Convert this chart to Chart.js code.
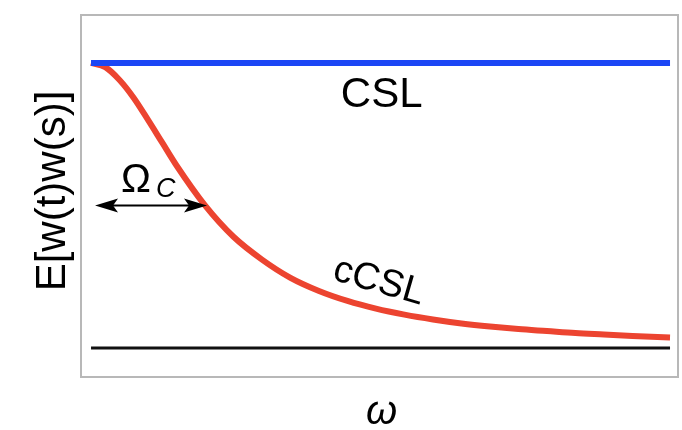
<!DOCTYPE html>
<html>
<head>
<meta charset="utf-8">
<script src="https://cdn.jsdelivr.net/npm/chart.js@4/dist/chart.umd.min.js"></script>
<style>
  html, body { margin: 0; padding: 0; background: #fff; }
  #wrap { width: 682px; height: 430px; }
</style>
</head>
<body>
<div id="wrap"><canvas id="chart"></canvas></div>
<script>
// frequency axis, in units of the cutoff Omega_C
const omega = [0, 0.125, 0.25, 0.375, 0.5, 0.625, 0.75, 1, 1.25, 1.5, 1.75, 2, 2.25, 2.5, 2.75, 3, 3.25, 3.5, 3.75, 4, 4.25, 4.5, 4.75, 5.08];
// coloured CSL correlation
const cCSL = [1.00, 0.985, 0.94, 0.877, 0.80, 0.72, 0.64, 0.50, 0.39, 0.31, 0.246, 0.20, 0.165, 0.138, 0.117, 0.10, 0.086, 0.075, 0.066, 0.059, 0.052, 0.047, 0.042, 0.037];
// white-noise CSL (flat) and the zero line
const cslX = [0, 5.08];
const csl = [1, 1];
const zero = [0, 0];

const FONT = '"Liberation Sans", Arial, Helvetica, sans-serif';

const pts = (xs, ys) => xs.map((x, i) => ({ x: x, y: ys[i] }));

// frame, labels and the Omega_C arrow
const decor = {
    id: 'decor',
    afterDraw(chart) {
        const ctx = chart.ctx;
        const a = chart.chartArea;
        const xs = chart.scales.x, ys = chart.scales.y;
        ctx.save();

        ctx.strokeStyle = '#b8b8b8';
        ctx.lineWidth = 2;
        ctx.strokeRect(a.left, a.top, a.right - a.left, a.bottom - a.top);

        ctx.fillStyle = '#000';
        ctx.textAlign = 'center';
        ctx.textBaseline = 'alphabetic';

        // CSL label
        ctx.font = '42px ' + FONT;
        ctx.fillText('CSL', xs.getPixelForValue(2.55), 107);

        // cCSL label, tilted along the curve
        ctx.save();
        ctx.translate(xs.getPixelForValue(2.5), 292);
        ctx.rotate(16 * Math.PI / 180);
        ctx.font = '38px ' + FONT;
        ctx.fillText('cCSL', 0, 0);
        ctx.restore();

        // arrow from 0 to Omega_C at half height
        const x0 = xs.getPixelForValue(0) + 4, x1 = xs.getPixelForValue(1) + 2;
        const yA = ys.getPixelForValue(0.5);
        ctx.strokeStyle = '#000';
        ctx.lineWidth = 2;
        ctx.beginPath();
        ctx.moveTo(x0 + 10, yA);
        ctx.lineTo(x1 - 10, yA);
        ctx.stroke();
        ctx.beginPath();
        ctx.moveTo(x0, yA);
        ctx.lineTo(x0 + 23, yA - 7);
        ctx.lineTo(x0 + 18, yA);
        ctx.lineTo(x0 + 23, yA + 7);
        ctx.closePath();
        ctx.fill();
        ctx.beginPath();
        ctx.moveTo(x1, yA);
        ctx.lineTo(x1 - 23, yA - 7);
        ctx.lineTo(x1 - 18, yA);
        ctx.lineTo(x1 - 23, yA + 7);
        ctx.closePath();
        ctx.fill();

        // Omega_C
        ctx.textAlign = 'left';
        ctx.font = '40px ' + FONT;
        ctx.fillText('\u03A9', 121, 192);
        ctx.font = 'italic 27px ' + FONT;
        ctx.fillText('C', 156, 197);

        // axis titles
        ctx.textAlign = 'center';
        ctx.font = 'italic 40px ' + FONT;
        ctx.fillText('\u03C9', (a.left + a.right) / 2 + 2, 424);

        ctx.save();
        ctx.translate(65, 191);
        ctx.rotate(-Math.PI / 2);
        ctx.font = '42px ' + FONT;
        ctx.fillText('E[w(t)w(s)]', 0, 0);
        ctx.restore();

        ctx.restore();
    }
};

const ctx = document.getElementById('chart').getContext('2d');
new Chart(ctx, {
    type: 'line',
    data: {
        datasets: [
            {
                label: 'zero',
                data: pts(cslX, zero),
                borderColor: '#111111',
                borderWidth: 3,
                pointRadius: 0
            },
            {
                label: 'CSL',
                data: pts(cslX, csl),
                borderColor: '#1c46f5',
                borderWidth: 6,
                pointRadius: 0
            },
            {
                label: 'cCSL',
                data: pts(omega, cCSL),
                borderColor: '#ec4430',
                borderWidth: 6,
                pointRadius: 0,
                cubicInterpolationMode: 'monotone'
            }
        ]
    },
    options: {
        responsive: true,
        maintainAspectRatio: false,
        animation: false,
        layout: { padding: { left: 81, top: 15, right: 4, bottom: 53 } },
        plugins: {
            legend: { display: false },
            tooltip: { enabled: false }
        },
        scales: {
            x: { type: 'linear', min: -0.088, max: 5.15, display: false },
            y: { min: -0.102, max: 1.168, display: false }
        }
    },
    plugins: [decor]
});
</script>
</body>
</html>
